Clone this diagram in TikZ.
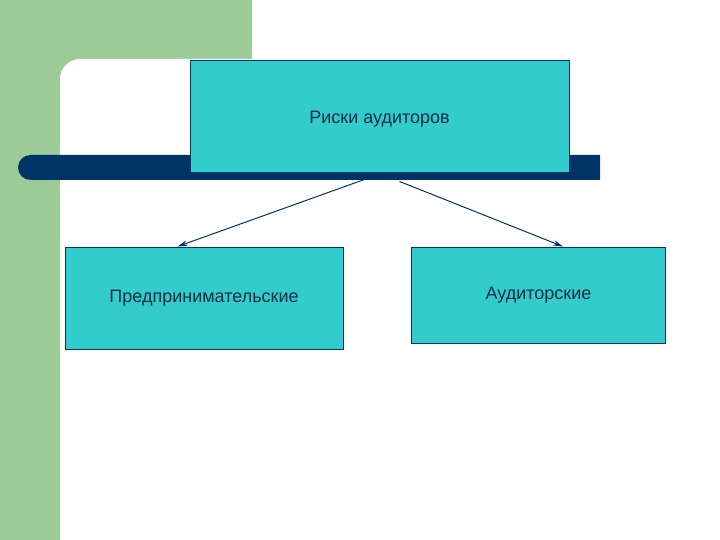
\documentclass[tikz,border=0pt]{standalone}
\usepackage{fontspec}
\setmainfont{Liberation Sans}
\usetikzlibrary{arrows.meta,calc}
\definecolor{slidegreen}{HTML}{9CCB97}
\definecolor{boxteal}{HTML}{33CCCC}
\definecolor{bardark}{HTML}{003366}
\definecolor{textdark}{HTML}{0F2E45}

\begin{document}
\begin{tikzpicture}[x=1pt, y=-1pt,
    box/.style={shape=rectangle, draw=bardark, line width=0.9pt, fill=boxteal, text=textdark,
      font=\fontsize{18}{21}\selectfont, inner sep=0pt},
    link/.style={-{Stealth[length=10pt, width=5.5pt]}, draw=bardark, line width=1pt}]
    \useasboundingbox (0,0) rectangle (720,540);
    \fill[white] (0,0) rectangle (720,540);
    % slide background
    \fill[slidegreen] (0,0) rectangle (252,540);
    \fill[white] (252,540) -- (60,540) [rounded corners=20pt] -- (60,59) [sharp corners] -- (252,59) -- cycle;
    \fill[bardark] (600,180) -- (600,155) [rounded corners=12.5pt] -- (18,155) -- (18,180) [sharp corners] -- cycle;

    \node at (379.5, 116) (risk) [box, minimum width=379pt, minimum height=112pt, text height=19pt, text depth=4pt] {Риски аудиторов};
    \node at (204, 298) (entre) [box, minimum width=278pt, minimum height=102pt] {Предпринимательские};
    \node at (538.5, 295) (audit) [box, minimum width=254pt, minimum height=96pt] {Аудиторские};

    \draw[link] ($(risk.south)+(-15,7)$) -- ($(entre.north west)+(113,0)$);
    \draw[link] ($(risk.south)+(20,9)$) -- ($(audit.north west)+(152,0)$);
\end{tikzpicture}
\end{document}
